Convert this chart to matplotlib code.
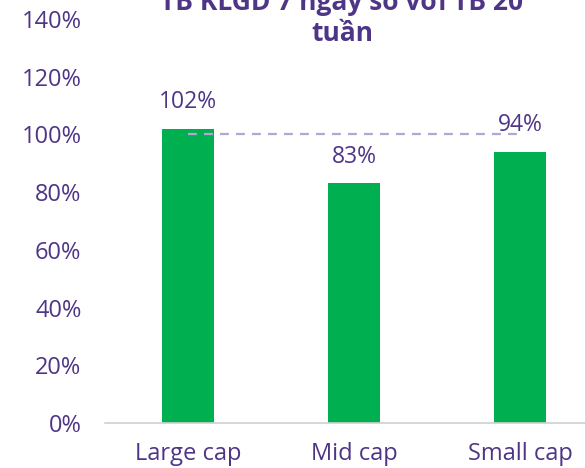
import matplotlib

matplotlib.use("Agg")
import matplotlib.pyplot as plt
from matplotlib.ticker import FuncFormatter

categories = ["Large cap", "Mid cap", "Small cap"]
values = [102, 83, 94]
reference_level = 100
title = "TB KLGD 7 ngày so với TB 20\ntuần"

purple = "#4e3586"
green = "#00b050"

plt.rcParams["font.family"] = ["Open Sans", "DejaVu Sans"]

fig = plt.figure(figsize=(5.85, 4.68), dpi=100)
W, H = 585, 468
# axes spans x: 105..603 px, y: 19..423 px (top down)
ax = fig.add_axes([105 / W, (H - 423) / H, 498 / W, 404 / H])

x = list(range(len(categories)))
ax.bar(x, values, width=0.31, color=green, zorder=2)
ax.plot([0, 2], [reference_level, reference_level], color="#b3a6d3",
        linestyle=(0, (4, 3.2)), linewidth=1.6, zorder=3)

for xi, v in zip(x, values):
    ax.annotate(f"{v}%", (xi, v), xytext=(0, 19), textcoords="offset points",
                ha="center", va="center", fontsize=16.5, color=purple, zorder=4)

ax.set_xlim(-0.5, 2.5)
ax.set_ylim(0, 140)
ax.set_yticks(range(0, 141, 20))
ax.yaxis.set_major_formatter(FuncFormatter(lambda v, _: f"{v:.0f}%"))
ax.set_xticks(x)
ax.set_xticklabels(categories)
ax.tick_params(axis="both", length=0, labelsize=17, labelcolor=purple)
ax.tick_params(axis="y", pad=17)
ax.tick_params(axis="x", pad=14)
for side in ["top", "right", "left"]:
    ax.spines[side].set_visible(False)
ax.spines["bottom"].set_color("#d0d0d0")
ax.spines["bottom"].set_linewidth(1.2)

fig.text(342 / W, 1 - 18 / H, title, ha="center", va="center", fontsize=19,
         fontweight="bold", color=purple, linespacing=1.2)

fig.savefig("out.png", dpi=100)
